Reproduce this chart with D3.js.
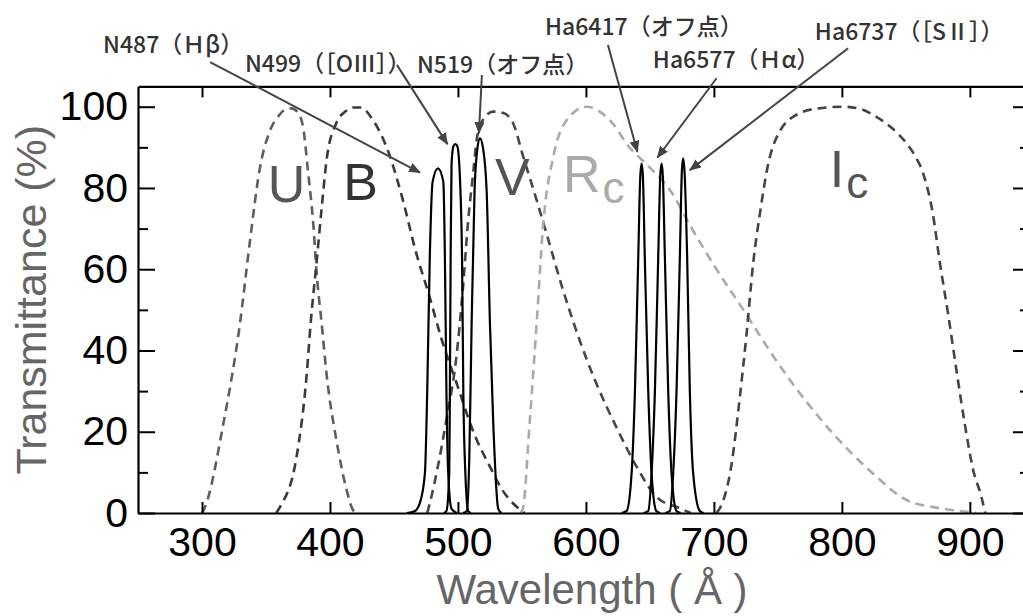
<!DOCTYPE html>
<html>
<head>
<meta charset="utf-8">
<script src="https://cdn.jsdelivr.net/npm/d3@7"></script>
<style>
  body { margin: 0; background: #fff; }
  svg { display: block; }
</style>
</head>
<body>
<div id="chart"></div>
<script>
// ---- data ----
const xTicks = [300, 400, 500, 600, 700, 800, 900]
const yTicks = [0, 20, 40, 60, 80, 100]
const yMinorTicks = [10, 30, 50, 70, 90]

// broad band filters (dashed)
const uWave  = [300, 302, 316.7, 329.7, 337.5, 345.3, 353, 360, 365, 370, 375, 379, 383, 387, 389.6, 393.5, 397.4, 405, 413, 418, 420]
const uTrans = [0, 1.2, 22, 46.7, 67, 85, 94, 97.8, 99.3, 99.6, 98.5, 95, 83.6, 71, 59, 46.7, 34, 18, 5.7, 0.7, 0]
const bWave  = [358, 361, 374, 381.8, 385, 389.6, 393.5, 397.4, 405, 412, 418, 424, 433, 445.5, 457, 466.5, 478, 487, 500, 512, 525, 535, 543, 552]
const bTrans = [0, 1.5, 14, 34, 47, 62, 75, 87, 96, 98.8, 99.8, 99.8, 97, 89, 77, 65, 53, 43, 31, 20, 11.4, 5.5, 2.4, 0]
const vWave  = [476, 478, 491, 499, 504, 508, 512, 514.6, 520, 527.6, 535, 543, 551, 561.5, 569, 582, 595, 608, 624, 639.6, 655, 673, 682]
const vTrans = [0, 2.4, 23, 39, 55.7, 72, 84, 91.8, 97, 98.8, 98.5, 96, 87.7, 77, 69, 55, 42.6, 32, 21, 11.4, 4, 1.2, 0]
const rWave  = [549, 551, 556, 561.5, 566.6, 574.5, 585, 600.5, 618.7, 634, 650, 665.6, 681, 702, 723, 752, 793, 824, 850.5, 876.6, 897, 905]
const rTrans = [0, 1.5, 22, 46.7, 71, 87.7, 96.7, 100, 96.7, 90, 85, 79.5, 71, 60, 50, 36, 19.6, 9.8, 3.2, 1.2, 0.3, 0]
const iWave  = [702, 704.7, 713.8, 720, 725.5, 730.7, 736, 742.5, 751.6, 767, 782, 801, 815, 827, 840, 850.5, 857, 863.5, 871, 876.6, 883, 889.6, 896, 902.6, 909, 912]
const iTrans = [0, 1.2, 12, 27.8, 44, 61.5, 73.8, 86, 94, 98.4, 99.6, 100, 99.4, 97.5, 94.5, 91, 88, 83.6, 73.8, 61.5, 49, 35, 22, 10.6, 4, 0]

// narrow band filters (solid)
const n487Wave  = [460, 466, 470.3, 474.2, 476, 478, 480.2, 484.4, 488.6, 489.8, 491, 492.4, 495, 499]
const n487Trans = [0, 0.4, 2.5, 9.8, 30, 63, 81.5, 84.8, 81.5, 63, 30, 9.8, 1, 0]
const n499Wave  = [489, 491, 493.2, 493.7, 494.3, 495, 496.5, 498, 499.5, 501, 503.2, 504.2, 505.8, 508, 510]
const n499Trans = [0, 0.5, 9.8, 30, 63, 86, 90.3, 90.8, 90.3, 86, 63, 30, 9.8, 0.5, 0]
const n519Wave  = [504, 507, 508.9, 510.7, 513, 515.3, 517.2, 519.5, 522.4, 525, 527.6, 531.5, 534]
const n519Trans = [0, 0.5, 14, 46.7, 79.5, 90, 92.2, 90, 79.5, 46.7, 22, 1, 0]
const ha6417Wave = [628, 631.8, 635.7, 638.3, 640.9, 642.5, 643.5, 644.5, 646, 648.7, 651.3, 655, 658]
const ha6577Wave = [645, 648.7, 651.3, 653.9, 656.5, 658.1, 659.1, 660.1, 661.7, 664.3, 666.9, 670.8, 674]
const ha6737Wave = [662, 665.6, 668.2, 670.8, 673.4, 675, 676, 677, 679.1, 681.2, 683.8, 689, 692]
const ha6417Trans = [0, 0.5, 9.8, 30, 63, 83, 86, 83, 63, 30, 9.8, 0.5, 0]
const ha6577Trans = [0, 0.5, 9.8, 30, 63, 83, 86, 83, 63, 30, 9.8, 0.5, 0]
const ha6737Trans = [0, 0.5, 9.8, 30, 63, 84.3, 87.3, 84.3, 63, 30, 9.8, 0.5, 0]

const filterNames = ["N487（Ｈβ）", "N499（［OⅢ］）", "N519（オフ点）", "Ha6417（オフ点）", "Ha6577（Ｈα）", "Ha6737（［SⅡ］）"]

// ---- layout ----
const width = 1023, height = 616
const x = d3.scaleLinear().domain([250, 947]).range([138, 1030])
const y = d3.scaleLinear().domain([0, 105]).range([513, 86.4])

const svg = d3.select("#chart").append("svg")
    .attr("width", width)
    .attr("height", height)
    .style("font-family", "'Liberation Sans', Arial, sans-serif")

const zip = (w, t) => w.map((d, i) => [d, t[i]])
const line = d3.line()
    .x(d => x(d[0]))
    .y(d => y(d[1]))
    .curve(d3.curveMonotoneX)

// broad bands
const broad = [
    { pts: zip(uWave, uTrans), color: "#5e5e5e" },
    { pts: zip(bWave, bTrans), color: "#3a3a3a" },
    { pts: zip(vWave, vTrans), color: "#474747" },
    { pts: zip(rWave, rTrans), color: "#aaaaaa" },
    { pts: zip(iWave, iTrans), color: "#444444" }
]
svg.append("g").selectAll("path")
    .data(broad)
    .join("path")
    .attr("d", d => line(d.pts))
    .attr("fill", "none")
    .attr("stroke", d => d.color)
    .attr("stroke-width", 2.6)
    .attr("stroke-dasharray", "9,6")

// narrow bands
const narrow = [
    zip(n487Wave, n487Trans), zip(n499Wave, n499Trans), zip(n519Wave, n519Trans),
    zip(ha6417Wave, ha6417Trans), zip(ha6577Wave, ha6577Trans), zip(ha6737Wave, ha6737Trans)
]
svg.append("g").selectAll("path")
    .data(narrow)
    .join("path")
    .attr("d", d => line(d))
    .attr("fill", "none")
    .attr("stroke", "#000")
    .attr("stroke-width", 2.2)

// band letters
const bandLabels = [
    { t: "U", s: "", w: 366, v: 76.5, c: "#555", a: "middle" },
    { t: "B", s: "", w: 424, v: 77, c: "#333", a: "middle" },
    { t: "V", s: "", w: 542.6, v: 78.3, c: "#555", a: "middle" },
    { t: "R", s: "c", w: 582, v: 79, c: "#aaa", a: "start" },
    { t: "I", s: "c", w: 790.5, v: 80.2, c: "#555", a: "start" }
]
const bl = svg.append("g").selectAll("text")
    .data(bandLabels)
    .join("text")
    .attr("x", d => x(d.w))
    .attr("y", d => y(d.v))
    .attr("text-anchor", d => d.a)
    .attr("fill", d => d.c)
    .style("font-size", "52px")
bl.append("tspan").text(d => d.t)
bl.append("tspan")
    .attr("dy", 11)
    .attr("dx", 2)
    .style("font-size", "44px")
    .text(d => d.s)

// ---- axes / frame ----
const axisStyle = g => {
    g.selectAll("path.domain").attr("stroke", "#000").attr("stroke-width", 2.2)
    g.selectAll(".tick line").attr("stroke", "#000").attr("stroke-width", 2)
}

svg.append("g")
    .attr("transform", `translate(0,${y(0)})`)
    .call(d3.axisBottom(x).tickValues(xTicks).tickSize(-11).tickSizeOuter(0).tickPadding(14))
    .call(axisStyle)
    .call(g => g.selectAll("text").style("font-size", "41px").attr("fill", "#000").style("font-family", "'Liberation Sans', Arial, sans-serif"))

svg.append("g")
    .attr("transform", `translate(0,${y(105)})`)
    .call(d3.axisTop(x).tickValues(xTicks).tickSize(-11).tickSizeOuter(0).tickFormat(""))
    .call(axisStyle)

svg.append("g")
    .attr("transform", `translate(${x(250)},0)`)
    .call(d3.axisLeft(y).tickValues(yTicks).tickSize(-17).tickSizeOuter(0).tickPadding(10))
    .call(axisStyle)
    .call(g => g.selectAll("text").style("font-size", "41px").attr("fill", "#000").style("font-family", "'Liberation Sans', Arial, sans-serif"))

svg.append("g")
    .attr("transform", `translate(${x(250)},0)`)
    .call(d3.axisLeft(y).tickValues(yMinorTicks).tickSize(-10).tickFormat(""))
    .call(axisStyle)
    .call(g => g.select("path.domain").remove())

svg.append("g")
    .attr("transform", `translate(${x(947)},0)`)
    .call(d3.axisRight(y).tickValues(yTicks).tickSize(-17).tickSizeOuter(0).tickFormat(""))
    .call(axisStyle)
svg.append("g")
    .attr("transform", `translate(${x(947)},0)`)
    .call(d3.axisRight(y).tickValues(yMinorTicks).tickSize(-10).tickFormat(""))
    .call(axisStyle)
    .call(g => g.select("path.domain").remove())

// axis titles
svg.append("text")
    .attr("x", 592)
    .attr("y", 604)
    .attr("text-anchor", "middle")
    .attr("fill", "#666")
    .style("font-size", "42px")
    .text("Wavelength ( Å )")

svg.append("text")
    .attr("transform", `translate(46,${y(52.5)}) rotate(-90)`)
    .attr("text-anchor", "middle")
    .attr("fill", "#666")
    .style("font-size", "43px")
    .text("Transmittance (%)")

// ---- filter annotations ----
svg.append("defs").append("marker")
    .attr("id", "arrow")
    .attr("viewBox", "0 0 12 10")
    .attr("refX", 11)
    .attr("refY", 5)
    .attr("markerWidth", 12)
    .attr("markerHeight", 10)
    .attr("markerUnits", "userSpaceOnUse")
    .attr("orient", "auto")
    .append("path")
    .attr("d", "M0,0 L12,5 L0,10 Z")
    .attr("fill", "#444")

// label anchor (wave, trans) + arrow tail -> tip, in data units
const notes = [
    { lw: 222.7, lv: 113.2, tw: 306.3, tv: 111, hw: 470.3, hv: 83.8 },
    { lw: 333.6, lv: 108.5, tw: 452.3, tv: 110.3, hw: 491.8, hv: 90.8 },
    { lw: 468, lv: 108.3, tw: 518.7, tv: 107.8, hw: 516.4, hv: 93.5 },
    { lw: 568, lv: 117.6, tw: 617.2, tv: 115.2, hw: 640.2, hv: 88.9 },
    { lw: 652.3, lv: 109.5, tw: 702.1, tv: 107, hw: 655.9, hv: 87.5 },
    { lw: 778.9, lv: 116.4, tw: 804.9, tv: 114.4, hw: 681.2, hv: 84.4 }
]

svg.append("g").selectAll("line")
    .data(notes)
    .join("line")
    .attr("x1", d => x(d.tw)).attr("y1", d => y(d.tv))
    .attr("x2", d => x(d.hw)).attr("y2", d => y(d.hv))
    .attr("stroke", "#444")
    .attr("stroke-width", 2)
    .attr("marker-end", "url(#arrow)")

svg.append("g").selectAll("text")
    .data(notes)
    .join("text")
    .attr("x", d => x(d.lw))
    .attr("y", d => y(d.lv))
    .attr("fill", "#333")
    .style("font-family", "'Noto Sans CJK JP', sans-serif")
    .style("font-weight", 500)
    .style("font-size", "23px")
    .text((d, i) => filterNames[i])
</script>
</body>
</html>
